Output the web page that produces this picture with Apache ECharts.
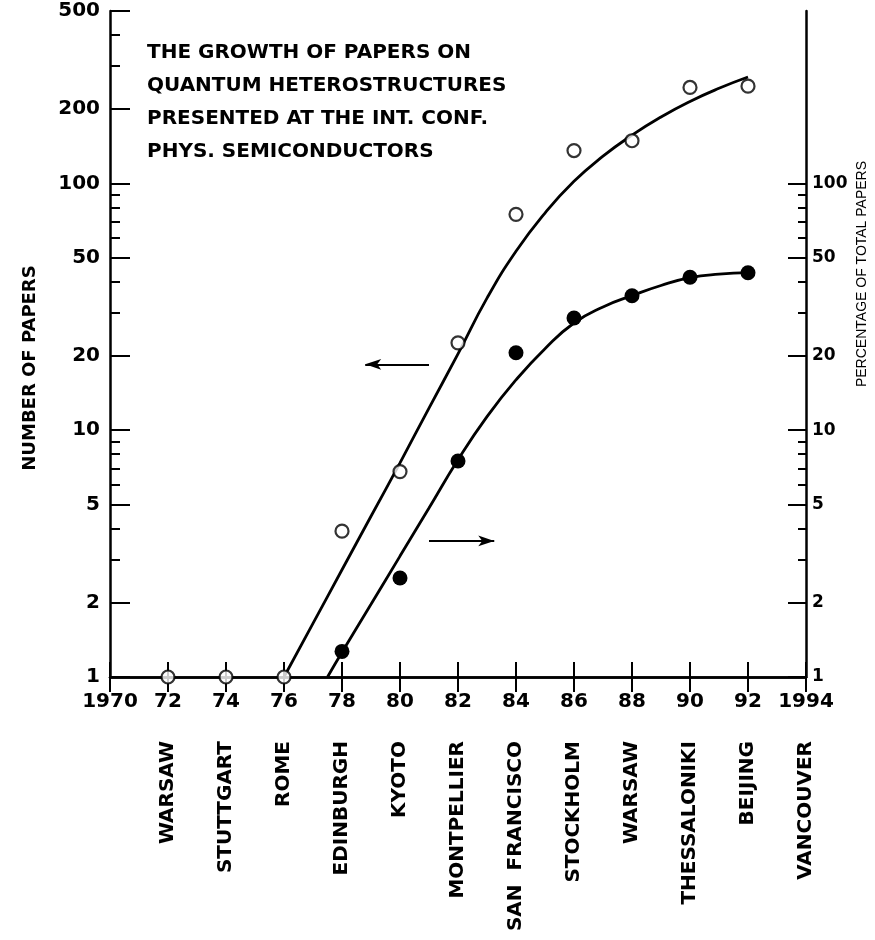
<!DOCTYPE html>
<html>
<head>
<meta charset="utf-8">
<script src="https://cdn.jsdelivr.net/npm/echarts@6/dist/echarts.min.js"></script>
<style>
html,body{margin:0;padding:0;background:#fff;}
#chart{width:875px;height:940px;}
</style>
</head>
<body>
<div id="chart"></div>
<script>
// ---- data ----
const conferenceYears = [1972, 1974, 1976, 1978, 1980, 1982, 1984, 1986, 1988, 1990, 1992];
const numberOfPapers = [1, 1, 1, 3.9, 6.8, 22.6, 75, 136, 149, 245, 248];
const percentYears = [1978, 1980, 1982, 1984, 1986, 1988, 1990, 1992];
const percentOfTotal = [1.27, 2.52, 7.5, 20.6, 28.5, 35.1, 41.7, 43.5];
const papersCurveYears = [1976, 1977, 1978, 1979, 1980, 1981, 1982, 1983, 1984, 1985, 1986, 1987, 1988, 1989, 1990, 1991, 1992];
const papersCurve = [1.0, 1.65, 2.72, 4.48, 7.38, 12.3, 20.4, 34.3, 53.1, 75.9, 102, 129, 157, 186, 215, 243, 270];
const percentCurveYears = [1977.5, 1978, 1979, 1980, 1981, 1982, 1983, 1984, 1985, 1986, 1987, 1988, 1989, 1990, 1991, 1992];
const percentCurve = [1.0, 1.26, 1.97, 3.09, 4.84, 7.59, 11.35, 16.0, 21.4, 27.2, 31.6, 35.1, 38.6, 41.5, 42.9, 43.5];
const cities = ['', 'WARSAW', 'STUTTGART', 'ROME', 'EDINBURGH', 'KYOTO', 'MONTPELLIER', 'SAN  FRANCISCO', 'STOCKHOLM', 'WARSAW', 'THESSALONIKI', 'BEIJING', 'VANCOUVER'];
const xTickLabels = ['1970', '72', '74', '76', '78', '80', '82', '84', '86', '88', '90', '92', '1994'];
const leftTickValues = [1, 2, 5, 10, 20, 50, 100, 200, 500];
const leftMinorValues = [3, 4, 6, 7, 8, 9, 30, 40, 60, 70, 80, 90, 300, 400];
const rightTickValues = [1, 2, 5, 10, 20, 50, 100];
const rightMinorValues = [3, 4, 6, 7, 8, 9, 30, 40, 60, 70, 80, 90];
const titleLines = ['THE GROWTH OF PAPERS ON', 'QUANTUM HETEROSTRUCTURES', 'PRESENTED AT THE INT. CONF.', 'PHYS. SEMICONDUCTORS'];
const leftAxisName = 'NUMBER OF PAPERS';
const rightAxisName = 'PERCENTAGE OF TOTAL PAPERS';

// ---- helpers ----
const L = v => Math.log10(v);
const pairs = (xs, ys) => xs.map((x, i) => [x, L(ys[i])]);
const FONT = 'DejaVu Sans';
const YMAX = L(500);
const xStart = 1970, xEnd = 1994;
const yearIndex = v => Math.round((v - xStart) / 2);

const chart = echarts.init(document.getElementById('chart'), null, {renderer: 'canvas'});

const axisLine = {show: true, lineStyle: {color: '#000', width: 2.5}};

const option = {
  backgroundColor: '#fff',
  animation: false,
  title: {
    text: titleLines.join('\n'),
    left: 147, top: 36, padding: 0,
    textStyle: {fontFamily: FONT, fontWeight: 'bold', fontSize: 20, lineHeight: 33, color: '#000'}
  },
  grid: {left: 110, right: 69, top: 11, bottom: 263, containLabel: false},
  xAxis: [
    {
      type: 'value', position: 'bottom', min: xStart, max: xEnd, interval: 2,
      axisLine: axisLine,
      axisTick: {show: true, inside: true, length: 15, lineStyle: {color: '#000', width: 2}},
      splitLine: {show: false},
      axisLabel: {
        margin: 15, color: '#000', fontFamily: FONT, fontWeight: 'bold', fontSize: 20,
        showMinLabel: true, showMaxLabel: true,
        formatter: v => xTickLabels[yearIndex(v)] || ''
      }
    },
    {
      type: 'value', position: 'bottom', min: xStart, max: xEnd, interval: 2,
      axisLine: {show: false}, axisTick: {show: false}, splitLine: {show: false},
      axisLabel: {
        rotate: 90, margin: 64, color: '#000', fontFamily: FONT, fontWeight: 'bold', fontSize: 20,
        showMinLabel: true, showMaxLabel: true,
        formatter: v => cities[yearIndex(v)] || ''
      }
    },
    {
      type: 'value', position: 'top', min: xStart, max: xEnd, interval: 2,
      axisLine: axisLine,
      axisTick: {show: true, inside: true, length: 15, lineStyle: {color: '#000', width: 2}},
      axisLabel: {show: false}, splitLine: {show: false}
    }
  ],
  yAxis: [
    {
      type: 'value', position: 'left', min: 0, max: YMAX,
      axisLine: axisLine,
      axisTick: {show: true, inside: true, length: 20, lineStyle: {color: '#000', width: 2}, customValues: leftTickValues.map(L)},
      splitLine: {show: false},
      axisLabel: {
        margin: 10, color: '#000', fontFamily: FONT, fontWeight: 'bold', fontSize: 20,
        customValues: leftTickValues.map(L),
        formatter: v => String(Math.round(Math.pow(10, v)))
      }
    },
    {
      type: 'value', position: 'left', min: 0, max: YMAX,
      axisLine: {show: false},
      axisTick: {show: true, inside: true, length: 10, lineStyle: {color: '#000', width: 2}, customValues: leftMinorValues.map(L)},
      axisLabel: {show: false}, splitLine: {show: false}
    },
    {
      type: 'value', position: 'right', min: 0, max: YMAX,
      axisLine: axisLine,
      axisTick: {show: true, inside: true, length: 18, lineStyle: {color: '#000', width: 2}, customValues: rightTickValues.map(L)},
      splitLine: {show: false},
      axisLabel: {
        margin: 6, color: '#000', fontFamily: FONT, fontWeight: 'bold', fontSize: 17,
        customValues: rightTickValues.map(L),
        formatter: v => String(Math.round(Math.pow(10, v)))
      }
    },
    {
      type: 'value', position: 'right', min: 0, max: YMAX,
      axisLine: {show: false},
      axisTick: {show: true, inside: true, length: 8, lineStyle: {color: '#000', width: 2}, customValues: rightMinorValues.map(L)},
      axisLabel: {show: false}, splitLine: {show: false}
    }
  ],
  graphic: [
    {
      type: 'text', x: 30, y: 368, rotation: Math.PI / 2,
      style: {text: leftAxisName, fill: '#000', font: 'bold 18px "DejaVu Sans"', textAlign: 'center', textVerticalAlign: 'middle'}
    },
    {
      type: 'text', x: 862, y: 274, rotation: Math.PI / 2,
      style: {text: rightAxisName, fill: '#000', font: '14px "Liberation Sans"', textAlign: 'center', textVerticalAlign: 'middle'}
    }
  ],
  series: [
    {
      name: 'papers curve', type: 'line', xAxisIndex: 0, yAxisIndex: 0,
      data: pairs(papersCurveYears, papersCurve),
      smooth: 0.5, showSymbol: false, symbol: 'none',
      lineStyle: {color: '#000', width: 2.8}, z: 2,
      markLine: {
        silent: true, symbol: ['arrow', 'none'], symbolSize: [8, 16],
        label: {show: false},
        lineStyle: {color: '#000', width: 2, type: 'solid'},
        data: [[{coord: [1978.8, L(18.5)]}, {coord: [1981.0, L(18.5)]}]]
      }
    },
    {
      name: 'percent curve', type: 'line', xAxisIndex: 0, yAxisIndex: 2,
      data: pairs(percentCurveYears, percentCurve),
      smooth: 0.5, showSymbol: false, symbol: 'none',
      lineStyle: {color: '#000', width: 2.8}, z: 2,
      markLine: {
        silent: true, symbol: ['none', 'arrow'], symbolSize: [8, 16],
        label: {show: false},
        lineStyle: {color: '#000', width: 2, type: 'solid'},
        data: [[{coord: [1981.0, L(3.56)]}, {coord: [1983.25, L(3.56)]}]]
      }
    },
    {
      name: 'number of papers', type: 'scatter', xAxisIndex: 0, yAxisIndex: 0,
      data: pairs(conferenceYears, numberOfPapers),
      symbol: 'circle', symbolSize: 13,
      itemStyle: {color: '#fff', borderColor: '#000', borderWidth: 2.2}, z: 5
    },
    {
      name: 'percentage of total', type: 'scatter', xAxisIndex: 0, yAxisIndex: 2,
      data: pairs(percentYears, percentOfTotal),
      symbol: 'circle', symbolSize: 15,
      itemStyle: {color: '#000', opacity: 1}, z: 5
    }
  ]
};
chart.setOption(option);
</script>
</body>
</html>
